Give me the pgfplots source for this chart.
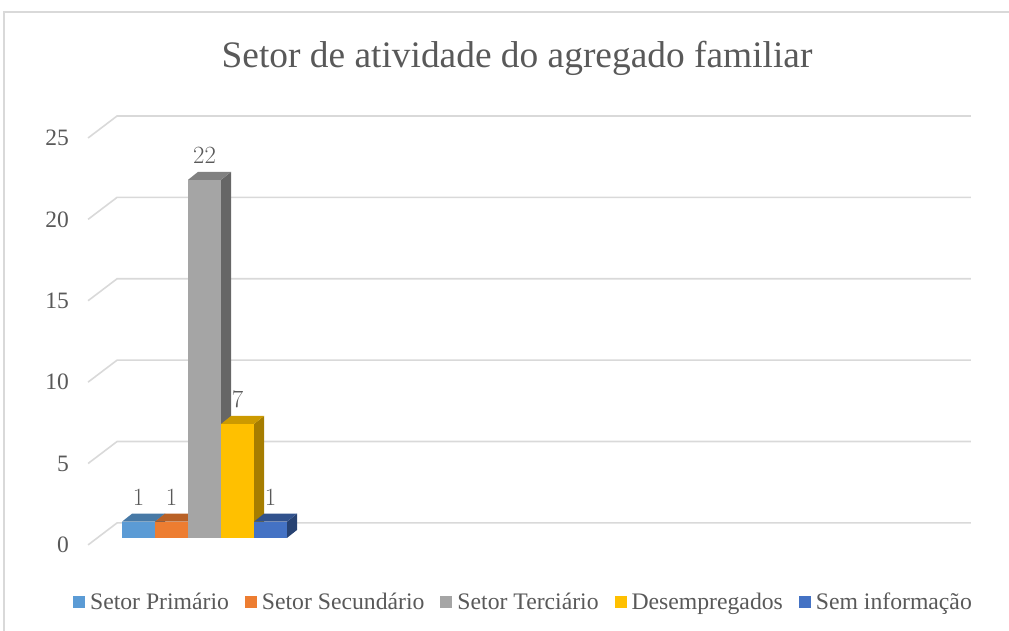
\documentclass[border=0pt]{standalone}
\usepackage{fontspec}
\setmainfont{Liberation Serif}
\usepackage{pgfplots}
\pgfplotsset{compat=1.18}
\definecolor{txt}{HTML}{595959}
\definecolor{gridc}{HTML}{D9D9D9}
\definecolor{cA}{HTML}{5B9BD5}
\definecolor{cB}{HTML}{ED7D31}
\definecolor{cC}{HTML}{A5A5A5}
\definecolor{cD}{HTML}{FFC000}
\definecolor{cE}{HTML}{4472C4}
\colorlet{cAt}{cA!78!black}\colorlet{cAs}{cA!60!black}
\colorlet{cBt}{cB!78!black}\colorlet{cBs}{cB!60!black}
\colorlet{cCt}{cC!78!black}\colorlet{cCs}{cC!62!black}
\colorlet{cDt}{cD!80!black}\colorlet{cDs}{cD!65!black}
\colorlet{cEt}{cE!72!black}\colorlet{cEs}{cE!58!black}
\pgfplotsset{
  gl/.style={sharp plot, draw=gridc, line width=1.6bp, forget plot, mark=none},
  face/.style={sharp plot, fill=#1, draw=none, forget plot, mark=none},
  bar/.style={ybar, bar width=33, bar shift=0pt, fill=#1, draw=none,
    nodes near coords,
    every node near coord/.append style={anchor=base, inner sep=0pt, yshift=16.5bp, font=\fontsize{23.5bp}{25bp}\selectfont, text=txt}},
}
\begin{document}
\begin{tikzpicture}
\begin{axis}[
  x=1bp, y=16.28bp,
  xmin=0, xmax=1009, ymin=-5.713, ymax=33.047,
  axis line style={draw=none},
  major tick length=0pt,
  xtick=\empty,
  ytick={-0.43,4.57,9.57,14.57,19.57,24.57},
  yticklabels={0,5,10,15,20,25},
  yticklabel style={anchor=east, inner sep=0pt, xshift=69bp, font=\fontsize{23.5bp}{25bp}\selectfont, text=txt},
  legend columns=5,
  legend image code/.code={\fill[#1] (0bp,-6bp) rectangle (12bp,6bp);},
  legend style={draw=none, fill=none, inner sep=0pt, outer sep=0pt,
    at={(axis cs:73,-3.96)}, anchor=west,
    font=\fontsize{23.7bp}{25bp}\selectfont, text=txt,
    nodes={inner sep=0pt},
    /tikz/every odd column/.append style={column sep=5bp},
    /tikz/every even column/.append style={column sep=16bp}},
]
% frame
\addplot[gl, line width=1.5bp] coordinates {(4,-5.713) (4,32.31) (1009,32.31)};
% gridlines
\addplot[gl] coordinates {(88,-0.43) (117,0.921) (971,0.921)};
\addplot[gl] coordinates {(88,4.57) (117,5.921) (971,5.921)};
\addplot[gl] coordinates {(88,9.57) (117,10.921) (971,10.921)};
\addplot[gl] coordinates {(88,14.57) (117,15.921) (971,15.921)};
\addplot[gl] coordinates {(88,19.57) (117,20.921) (971,20.921)};
\addplot[gl] coordinates {(88,24.57) (117,25.921) (971,25.921)};
% Bar 1: Setor Primario = 1
\addplot[face=cAs] coordinates {(155,0) (165,0.49) (165,1.49) (155,1)} -- cycle;
\addplot[face=cAt] coordinates {(122,1) (132,1.49) (165,1.49) (155,1)} -- cycle;
\addplot[bar=cA] coordinates {(138.5,1)};
% Bar 2: Setor Secundario = 1
\addplot[face=cBs] coordinates {(188,0) (198,0.49) (198,1.49) (188,1)} -- cycle;
\addplot[face=cBt] coordinates {(155,1) (165,1.49) (198,1.49) (188,1)} -- cycle;
\addplot[bar=cB] coordinates {(171.5,1)};
% Bar 3: Setor Terciario = 22
\addplot[face=cCs] coordinates {(221,0) (231,0.49) (231,22.49) (221,22)} -- cycle;
\addplot[face=cCt] coordinates {(188,22) (198,22.49) (231,22.49) (221,22)} -- cycle;
\addplot[bar=cC] coordinates {(204.5,22)};
% Bar 4: Desempregados = 7
\addplot[face=cDs] coordinates {(254,0) (264,0.49) (264,7.49) (254,7)} -- cycle;
\addplot[face=cDt] coordinates {(221,7) (231,7.49) (264,7.49) (254,7)} -- cycle;
\addplot[bar=cD] coordinates {(237.5,7)};
% Bar 5: Sem informacao = 1
\addplot[face=cEs] coordinates {(287,0) (297,0.49) (297,1.49) (287,1)} -- cycle;
\addplot[face=cEt] coordinates {(254,1) (264,1.49) (297,1.49) (287,1)} -- cycle;
\addplot[bar=cE] coordinates {(270.5,1)};
\legend{Setor Primário,Setor Secundário,Setor Terciário,Desempregados,Sem informação}
\node[anchor=base, text=txt, font=\fontsize{37.4bp}{40bp}\selectfont, inner sep=0pt] at (axis cs:517,28.87) {Setor de atividade do agregado familiar};
\end{axis}
\end{tikzpicture}
\end{document}
